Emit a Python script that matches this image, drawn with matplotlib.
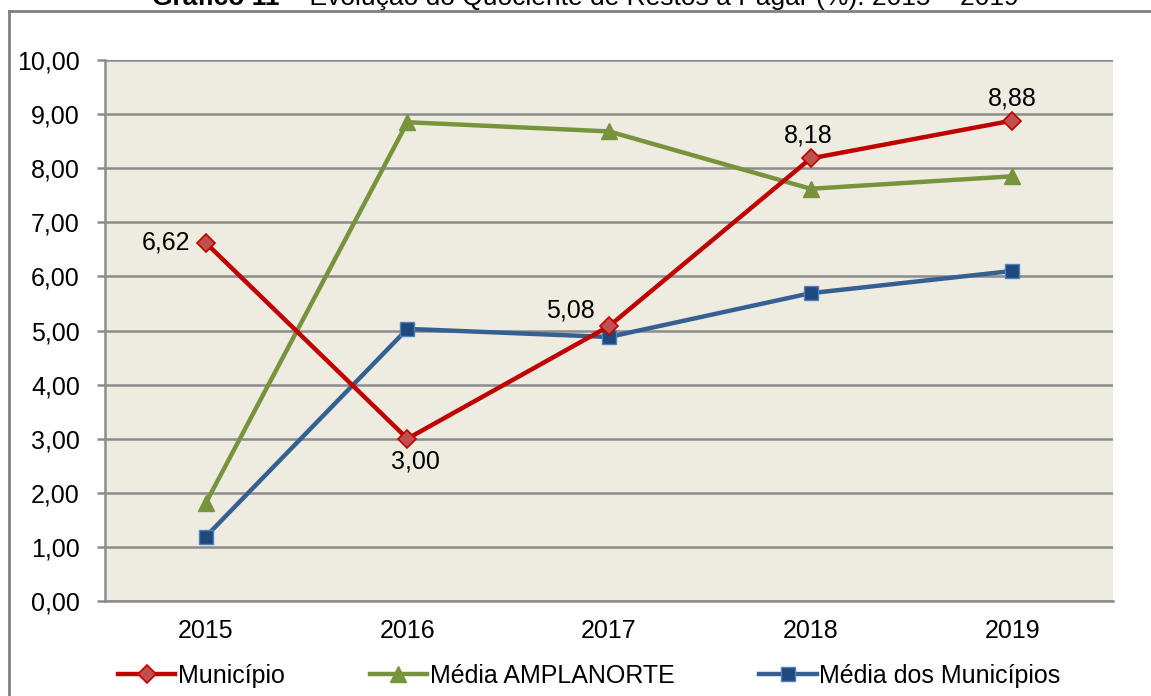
import matplotlib
matplotlib.use("Agg")
import matplotlib.pyplot as plt
from matplotlib.ticker import FixedLocator

plt.rcParams['font.family'] = ['Liberation Sans', 'DejaVu Sans']

years = ["2015", "2016", "2017", "2018", "2019"]
municipio = [6.62, 3.00, 5.08, 8.18, 8.88]
amplanorte = [1.81, 8.85, 8.68, 7.62, 7.85]
media_municipios = [1.19, 5.03, 4.88, 5.69, 6.10]
yticks = [0, 1, 2, 3, 4, 5, 6, 7, 8, 9, 10]
labels_mun = ["6,62", "3,00", "5,08", "8,18", "8,88"]

FS = 18

fig = plt.figure(figsize=(11.51, 6.96), dpi=100)
fig.patch.set_facecolor("white")
ax = fig.add_axes([105/1151, 1-601/696, (1113-105)/1151, (601-60)/696])
ax.set_facecolor("#EEECE1")

x = list(range(len(years)))
grid_c = "#8C8C8C"
for v in yticks:
    ax.axhline(v, color=grid_c, lw=1.8, zorder=1)

ax.plot(x, municipio, color="#C00000", lw=3.2, marker="D", markersize=9,
        markerfacecolor="#C0504D", markeredgecolor="#C00000", markeredgewidth=1.2,
        zorder=4, label="Município")
ax.plot(x, amplanorte, color="#77933C", lw=3.2, marker="^", markersize=11,
        markerfacecolor="#77933C", markeredgecolor="#77933C",
        zorder=3, label="Média AMPLANORTE")
ax.plot(x, media_municipios, color="#376092", lw=3.2, marker="s", markersize=10,
        markerfacecolor="#1F497D", markeredgecolor="#4F81BD", markeredgewidth=1.0,
        zorder=3, label="Média dos Municípios")

# data labels (offsets in points)
offsets = [(-11, 0, "right", "center"), (6, -8, "center", "top"),
           (-10, 3, "right", "bottom"), (-2, 8, "center", "bottom"),
           (0, 7, "center", "bottom")]
for i, (dx, dy, ha, va) in enumerate(offsets):
    ax.annotate(labels_mun[i], (x[i], municipio[i]), xytext=(dx, dy),
                textcoords="offset points", ha=ha, va=va, fontsize=FS, color="black", zorder=6)

ax.set_xlim(-0.5, 4.5)
ax.set_ylim(0, 10)
ax.set_xticks(x)
ax.set_xticklabels(years, fontsize=FS)
ax.yaxis.set_major_locator(FixedLocator(yticks))
ax.set_yticklabels([f"{v:.2f}".replace(".", ",") for v in yticks], fontsize=FS)
ax.tick_params(axis="x", length=0, pad=13)
ax.tick_params(axis="y", length=6, width=1.8, color=grid_c, pad=12, direction="out")
for s in ["top", "right"]:
    ax.spines[s].set_visible(False)
for s in ["left", "bottom"]:
    ax.spines[s].set_color(grid_c)
    ax.spines[s].set_linewidth(1.8)

leg = fig.legend(loc="center", bbox_to_anchor=(0.512, 1-676/696), ncol=3, frameon=False,
                 fontsize=FS, handlelength=2.3, handletextpad=0.1, columnspacing=3.4)

# outer frame (left and top lines visible)
fig.add_artist(plt.Line2D([9/1151, 9/1151], [0, 1-11/696], transform=fig.transFigure,
                          color="#808080", lw=2))
fig.add_artist(plt.Line2D([9/1151, 1], [1-11/696, 1-11/696], transform=fig.transFigure,
                          color="#808080", lw=2))

# cut-off title (only lower part visible, as in the reference)
t1 = fig.text(152/1151, 1-5/696, "Gráfico 11", ha="left", va="baseline",
              fontsize=19, fontweight="bold")
ax.annotate(" – Evolução do Quociente de Restos a Pagar (%): 2015 – 2019",
            xy=(1, 0), xycoords=t1, ha="left", va="bottom", fontsize=19,
            annotation_clip=False)

fig.savefig("out.png", dpi=100)
